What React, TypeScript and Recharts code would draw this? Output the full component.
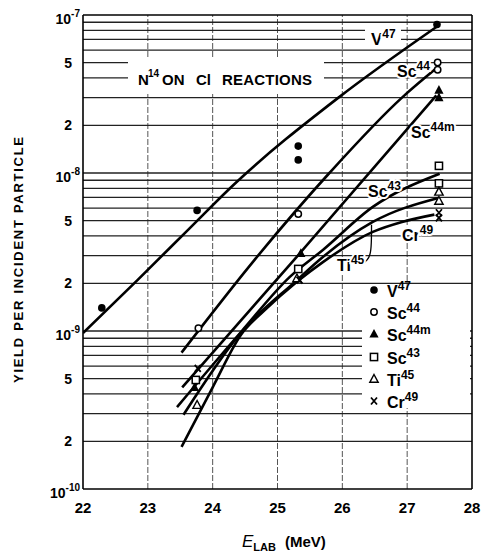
import React from 'react';
import { ComposedChart, Line, Scatter, XAxis, YAxis, ReferenceLine } from 'recharts';

const FONT = "'Liberation Sans', Arial, sans-serif";

// axis ticks
const energyTicks = [22, 23, 24, 25, 26, 27, 28];
const yieldTicks = [1e-10, 2e-10, 5e-10, 1e-9, 2e-9, 5e-9, 1e-8, 2e-8, 5e-8, 1e-7];
const gridMantissas = [1, 2, 3, 4, 5, 6, 7, 8, 9];
const gridDecades = [1e-10, 1e-9, 1e-8];

// measured yields [E_lab MeV, yield per incident particle]
const v47Points = [[22.29, 1.4e-9], [23.76, 5.8e-9], [25.32, 1.48e-8], [25.32, 1.21e-8], [27.46, 8.7e-8]];
const sc44Points = [[23.78, 1.04e-9], [25.32, 5.5e-9], [27.47, 5.0e-8], [27.47, 4.5e-8]];
const sc44mPoints = [[23.72, 4.4e-10], [25.36, 3.1e-9], [27.49, 3.35e-8], [27.49, 3.0e-8]];
const sc43Points = [[23.74, 4.9e-10], [25.32, 2.47e-9], [27.49, 1.11e-8], [27.49, 8.6e-9]];
const ti45Points = [[23.76, 3.4e-10], [25.3, 2.15e-9], [27.49, 7.6e-9], [27.49, 6.65e-9]];
const cr49Points = [[23.77, 5.8e-10], [25.34, 2.1e-9], [27.49, 5.6e-9], [27.49, 5.2e-9]];

// hand-drawn excitation curves
const v47Curve = [[22.0, 9.7e-10], [22.84, 2.1e-9], [23.64, 4.45e-9], [24.32, 8.4e-9], [25.94, 3.0e-8], [27.45, 8.4e-8]];
const sc44Curve = [[23.52, 7.3e-10], [24.64, 2.8e-9], [25.8, 1.0e-8], [26.92, 3.0e-8], [27.45, 4.6e-8]];
const sc44mCurve = [[23.53, 4.4e-10], [25.3, 2.96e-9], [27.45, 3.1e-8]];
const sc43Curve = [[23.45, 3.3e-10], [24.45, 1.0e-9], [25.19, 2.2e-9], [25.7, 3.26e-9], [26.47, 6.1e-9], [27.5, 9.9e-9]];
const ti45Curve = [[23.55, 2.95e-10], [24.44, 9.8e-10], [25.3, 2.1e-9], [25.7, 2.94e-9], [26.47, 4.9e-9], [27.48, 6.95e-9]];
const cr49Curve = [[23.52, 1.85e-10], [24.0, 4.4e-10], [24.44, 9.5e-10], [24.8, 1.35e-9], [25.3, 2.05e-9], [25.7, 2.73e-9], [26.47, 4.24e-9], [26.92, 4.9e-9], [27.42, 5.45e-9]];
const ti45Leader = [[26.29, 2.62e-9], [26.39, 2.8e-9], [26.44, 3.1e-9], [26.45, 3.8e-9], [26.45, 4.7e-9]];

const xy = (rows: number[][]) => rows.map(([x, y]) => ({ x, y }));

const Dot = ({ cx, cy }: any) => <circle cx={cx} cy={cy} r={3.8} fill="#000" />;
const Ring = ({ cx, cy }: any) => <circle cx={cx} cy={cy} r={3.2} fill="#fff" stroke="#000" strokeWidth={1.5} />;
const Tri = ({ cx, cy }: any) => (
  <path d={`M${cx},${cy - 5} L${cx + 4.6},${cy + 3.6} L${cx - 4.6},${cy + 3.6} Z`} fill="#000" />
);
const Box = ({ cx, cy }: any) => (
  <rect x={cx - 3.6} y={cy - 3.6} width={7.2} height={7.2} fill="#fff" stroke="#000" strokeWidth={1.5} />
);
const OpenTri = ({ cx, cy }: any) => (
  <path d={`M${cx},${cy - 4.5} L${cx + 4.2},${cy + 3.3} L${cx - 4.2},${cy + 3.3} Z`} fill="#fff" stroke="#000" strokeWidth={1.4} />
);
const Cross = ({ cx, cy }: any) => (
  <path d={`M${cx - 3},${cy - 3.5} L${cx + 3},${cy + 3.5} M${cx + 3},${cy - 3.5} L${cx - 3},${cy + 3.5}`} stroke="#000" strokeWidth={1.8} />
);

const series = [
  { name: 'V', mass: '47', points: v47Points, curve: v47Curve, Marker: Dot },
  { name: 'Sc', mass: '44', points: sc44Points, curve: sc44Curve, Marker: Ring },
  { name: 'Sc', mass: '44m', points: sc44mPoints, curve: sc44mCurve, Marker: Tri },
  { name: 'Sc', mass: '43', points: sc43Points, curve: sc43Curve, Marker: Box },
  { name: 'Ti', mass: '45', points: ti45Points, curve: ti45Curve, Marker: OpenTri },
  { name: 'Cr', mass: '49', points: cr49Points, curve: cr49Curve, Marker: Cross },
];

const isDecade = (v: number) => Math.abs(Math.log10(v) - Math.round(Math.log10(v))) < 1e-6;

function YTick({ x, y, payload }: any) {
  const v = payload.value;
  if (isDecade(v)) {
    return (
      <text x={x - 3} y={y + 9} textAnchor="end" fontFamily={FONT} fontWeight={700} fontSize={14} fill="#000">
        10<tspan dy={-7} fontSize={10}>{`-${-Math.round(Math.log10(v))}`}</tspan>
      </text>
    );
  }
  const m = Math.round(v / Math.pow(10, Math.floor(Math.log10(v) + 1e-9)));
  return (
    <text x={x - 11} y={y + 5} textAnchor="end" fontFamily={FONT} fontWeight={700} fontSize={14} fill="#000">
      {m}
    </text>
  );
}

function XTick({ x, y, payload }: any) {
  return (
    <text x={x} y={y + 24} textAnchor="middle" fontFamily={FONT} fontWeight={700} fontSize={15} fill="#000">
      {payload.value}
    </text>
  );
}

function Iso({ x, y, base, sup, size = 16, supSize = 12, halo = true }: any) {
  return (
    <text
      x={x}
      y={y}
      fontFamily={FONT}
      fontWeight={700}
      fontSize={size}
      fill="#000"
      stroke={halo ? '#fff' : 'none'}
      strokeWidth={halo ? 4 : 0}
      paintOrder="stroke"
    >
      {base}
      <tspan dy={-7} fontSize={supSize}>{sup}</tspan>
    </text>
  );
}

const legendRows = [290, 312, 334, 357, 379, 401];

export default function App() {
  const hLines: number[] = [];
  gridDecades.forEach((d) => gridMantissas.forEach((m) => hLines.push(m * d)));

  return (
    <div style={{ position: 'absolute', left: 0, top: 0, width: 484, height: 554, background: '#fff' }}>
      <ComposedChart width={484} height={554} margin={{ top: 15, right: 12, bottom: 35, left: 0 }}>
        <XAxis
          dataKey="x"
          type="number"
          domain={[22, 28]}
          ticks={energyTicks}
          allowDataOverflow
          height={30}
          tickSize={0}
          tickMargin={0}
          tickLine={false}
          tick={<XTick />}
          axisLine={{ stroke: '#000', strokeWidth: 1.6 }}
        />
        <YAxis
          dataKey="y"
          type="number"
          scale="log"
          domain={[1e-10, 1e-7]}
          ticks={yieldTicks}
          allowDataOverflow
          width={83}
          tickSize={0}
          tickMargin={0}
          tickLine={false}
          tick={<YTick />}
          axisLine={{ stroke: '#000', strokeWidth: 1.6 }}
        />
        {energyTicks.slice(1, -1).map((e) => (
          <ReferenceLine key={`v${e}`} x={e} stroke="#555" strokeWidth={1} strokeDasharray="6 2" />
        ))}
        {hLines.slice(1).map((v) => (
          <ReferenceLine key={`h${v}`} y={v} stroke="#222" strokeWidth={1.3} />
        ))}
        <ReferenceLine y={1e-7} stroke="#000" strokeWidth={1.6} />
        <ReferenceLine x={28} stroke="#000" strokeWidth={1.6} />
        {series.map((s) => (
          <Line
            key={`c${s.name}${s.mass}`}
            data={xy(s.curve)}
            dataKey="y"
            type="monotone"
            stroke="#000"
            strokeWidth={2.6}
            dot={false}
            activeDot={false}
            isAnimationActive={false}
          />
        ))}
        <Line
          data={xy(ti45Leader)}
          dataKey="y"
          type="basis"
          stroke="#000"
          strokeWidth={1.3}
          dot={false}
          activeDot={false}
          isAnimationActive={false}
        />
        {series.map((s) => (
          <Scatter
            key={`p${s.name}${s.mass}`}
            data={xy(s.points)}
            dataKey="y"
            shape={(p: any) => <s.Marker cx={p.cx} cy={p.cy} />}
            isAnimationActive={false}
          />
        ))}
      </ComposedChart>

      <svg width={484} height={554} style={{ position: 'absolute', left: 0, top: 0, pointerEvents: 'none' }}>
        {/* title */}
        <rect x={128} y={58} width={196} height={36} fill="#fff" />
        <text fontFamily={FONT} fontWeight={700} fontSize={15} fill="#000">
          <tspan x={138} y={85}>N</tspan>
          <tspan x={148} y={77} fontSize={10}>14</tspan>
          <tspan x={162} y={85}>ON</tspan>
          <tspan x={196} y={85}>Cl</tspan>
          <tspan x={222} y={85} textLength={90} lengthAdjust="spacing">REACTIONS</tspan>
        </text>

        {/* curve labels */}
        <rect x={365} y={25} width={36} height={22} fill="#fff" />
        <Iso x={371} y={45} base="V" sup="47" size={17} />
        <Iso x={397} y={77} base="Sc" sup="44" />
        <Iso x={411} y={138} base="Sc" sup="44m" />
        <Iso x={368} y={197} base="Sc" sup="43" />
        <Iso x={402} y={241} base="Cr" sup="49" />
        <Iso x={337} y={271} base="Ti" sup="45" />

        {/* key */}
        <rect x={362} y={288} width={108} height={120} fill="#fff" />
        {series.map((s, i) => (
          <g key={`k${i}`}>
            <s.Marker cx={374} cy={legendRows[i]} />
            <Iso x={387} y={legendRows[i] + 7} base={s.name} sup={s.mass} halo={false} />
          </g>
        ))}

        {/* axis titles */}
        <text
          x={0}
          y={0}
          transform="translate(23 260) rotate(-90)"
          textAnchor="middle"
          fontFamily={FONT}
          fontWeight={700}
          fontSize={13}
          textLength={246}
          lengthAdjust="spacing"
          fill="#000"
        >
          YIELD PER INCIDENT PARTICLE
        </text>
        <text x={242} y={547} fontFamily={FONT} fontSize={17} fill="#000" fontStyle="italic">
          E
          <tspan dy={4} fontSize={11} fontWeight={700} fontStyle="normal">LAB</tspan>
          <tspan dy={-4} dx={9} fontSize={15} fontWeight={700} fontStyle="normal">(MeV)</tspan>
        </text>
      </svg>
    </div>
  );
}
